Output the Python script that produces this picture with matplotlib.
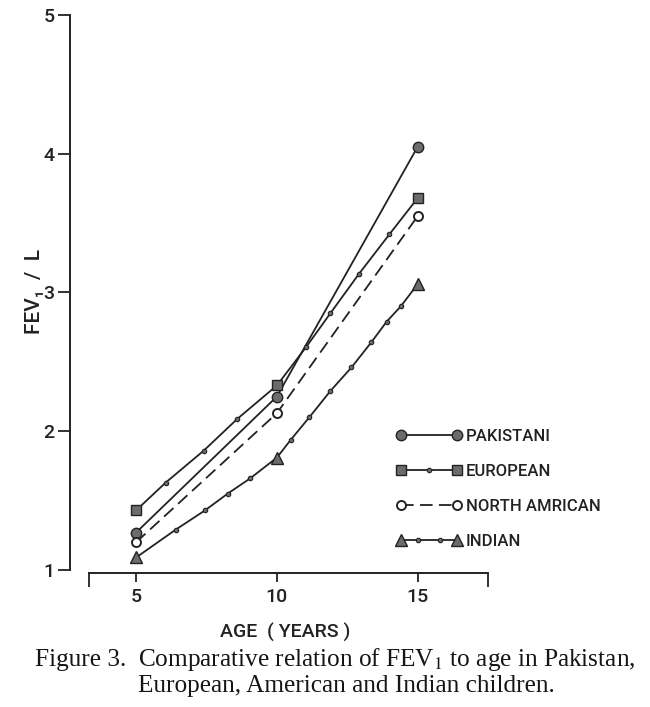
import numpy as np
import matplotlib
matplotlib.use('Agg')
import matplotlib.pyplot as plt
from matplotlib import font_manager
from matplotlib.legend_handler import HandlerLine2D
from matplotlib.lines import Line2D

INK = '#222222'
GREY = '#6c6c6c'

# values (age in years, FEV1 in litres)
age_pak = [5, 10, 15]
fev_pak = [1.27, 2.25, 4.05]

age_eur = [5, 6.05, 7.4, 8.6, 10, 11.05, 11.9, 12.9, 14.0, 15]
fev_eur = [1.43, 1.63, 1.86, 2.09, 2.33, 2.61, 2.85, 3.13, 3.42, 3.68]
eur_main = [0, 4, 9]
eur_small = [1, 2, 3, 5, 6, 7, 8]

age_na = [5, 10, 15]
fev_na = [1.20, 2.13, 3.55]

age_ind = [5, 6.4, 7.45, 8.25, 9.05, 10, 10.5, 11.15, 11.9, 12.65, 13.35, 13.9, 14.4, 15]
fev_ind = [1.09, 1.29, 1.43, 1.55, 1.66, 1.81, 1.94, 2.10, 2.29, 2.46, 2.64, 2.79, 2.90, 3.06]
ind_main = [0, 5, 13]
ind_small = [1, 2, 3, 4, 6, 7, 8, 9, 10, 11, 12]

labels = ['PAKISTANI', 'EUROPEAN', 'NORTH AMRICAN', 'INDIAN']
x_ticks = [5, 10, 15]
x_ends = [3.33, 17.5]
y_ticks = [1, 2, 3, 4, 5]


def pick_font(names, default):
    for n in names:
        try:
            font_manager.findfont(font_manager.FontProperties(family=n),
                                  fallback_to_default=False)
            return n
        except ValueError:
            pass
    return default


SANS = pick_font(['Liberation Sans Narrow', 'DejaVu Sans Condensed', 'Roboto'], 'DejaVu Sans')
SERIF = pick_font(['Liberation Serif'], 'DejaVu Serif')

plt.rcParams['font.family'] = [SANS, 'DejaVu Sans']
plt.rcParams['font.weight'] = 500
plt.rcParams['mathtext.fontset'] = 'stix'


class EndsAndDots(HandlerLine2D):
    """legend sample with big end markers and small dots in between"""

    def __init__(self, n_inner=0, **kw):
        super().__init__(numpoints=2, **kw)
        self.n_inner = n_inner

    def create_artists(self, legend, orig_handle, xdescent, ydescent,
                       width, height, fontsize, trans):
        artists = super().create_artists(legend, orig_handle, xdescent, ydescent,
                                         width, height, fontsize, trans)
        if self.n_inner:
            xs = np.linspace(-xdescent, width - xdescent, self.n_inner + 2)[1:-1]
            ys = np.full_like(xs, (height - ydescent) / 2)
            dots = Line2D(xs, ys, ls='none', marker='o', ms=3.2, mfc=GREY,
                          mec=INK, mew=0.8, transform=trans)
            artists.append(dots)
        return artists


fig = plt.figure(figsize=(6.5, 7.07), dpi=100)
ax = fig.add_axes([0.1077, 0.1895, 0.6431, 0.7893])

lw = 1.3
h_pak, = ax.plot(age_pak, fev_pak, '-', color=INK, lw=lw, marker='o', ms=7.5,
                 mfc=GREY, mec=INK, mew=1)
h_eur, = ax.plot(age_eur, fev_eur, '-', color=INK, lw=lw, marker='s', ms=6.5,
                 mfc=GREY, mec=INK, mew=1, markevery=eur_main)
ax.plot(np.array(age_eur)[eur_small], np.array(fev_eur)[eur_small], ls='none',
        marker='o', ms=3.2, mfc=GREY, mec=INK, mew=0.8)
h_na, = ax.plot(age_na, fev_na, color=INK, lw=lw, dashes=(7, 3.5), marker='o',
                ms=6.5, mfc='white', mec=INK, mew=1.4)
h_ind, = ax.plot(age_ind, fev_ind, '-', color=INK, lw=lw, marker='^', ms=9,
                 mfc=GREY, mec=INK, mew=1, markevery=ind_main)
ax.plot(np.array(age_ind)[ind_small], np.array(fev_ind)[ind_small], ls='none',
        marker='o', ms=3.2, mfc=GREY, mec=INK, mew=0.8)

ax.set_xlim(2.65, 17.5)
ax.set_ylim(0.978, 5.0)

for side in ['top', 'right']:
    ax.spines[side].set_visible(False)
ax.spines['left'].set_bounds(1, 5)
ax.spines['bottom'].set_bounds(x_ends[0], x_ends[1])
for side in ['left', 'bottom']:
    ax.spines[side].set_linewidth(1.4)
    ax.spines[side].set_color(INK)

ax.set_xticks(x_ticks)
ax.set_xticks(x_ends, minor=True)
ax.set_yticks(y_ticks)
ax.tick_params(axis='x', which='major', length=6.5, width=1.3, pad=4,
               labelsize=14, colors=INK)
ax.tick_params(axis='x', which='minor', length=10, width=1.3, colors=INK)
ax.tick_params(axis='y', length=9, width=1.3, pad=2, labelsize=14, colors=INK)

fig.text(35 / 650, 1 - 291 / 707, 'FEV\u2081  /  L', rotation=90, ha='center',
         va='center', fontsize=15, color=INK)
fig.text(285 / 650, 1 - 632 / 707, 'AGE  ( YEARS )', ha='center', va='center',
         fontsize=14, color=INK)

leg = ax.legend([h_pak, h_eur, h_na, h_ind], labels, loc='upper left',
                bbox_to_anchor=(396 / 650, 1 - 429 / 707),
                bbox_transform=fig.transFigure, frameon=False, borderpad=0,
                borderaxespad=0, handlelength=3.95, handletextpad=0.25,
                labelspacing=1.2, numpoints=2,
                prop=font_manager.FontProperties(family=SANS, size=12, weight=500),
                handler_map={h_eur: EndsAndDots(1), h_ind: EndsAndDots(2)})
for t in leg.get_texts():
    t.set_color(INK)

cap = dict(family=[SERIF, 'DejaVu Serif'], fontsize=18.2, color='#151515',
           va='baseline', fontweight='normal')
fig.text(35 / 650, 1 - 666 / 707, 'Figure 3.', ha='left', **cap)
fig.text(138 / 650, 1 - 666 / 707,
         r'Comparative relation of FEV$_1$ to age in Pakistan,', ha='left', **cap)
fig.text(138 / 650, 1 - 692 / 707,
         'European, American and Indian children.', ha='left', **cap)

fig.savefig('out.png', dpi=100, facecolor='white')
